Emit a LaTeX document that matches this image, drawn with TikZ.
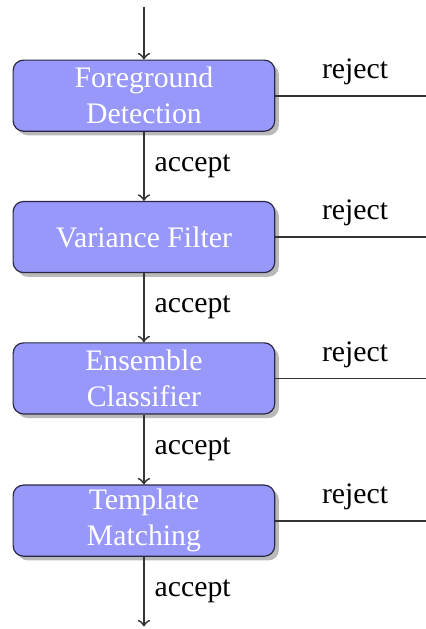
\documentclass[tikz,border=0pt]{standalone}
\usepackage{fontspec}
\newfontfamily\timesfont{Liberation Serif}
\usepackage{tikz}
\usetikzlibrary{arrows}
\usetikzlibrary{shadows}
\definecolor{stageblue}{RGB}{152,152,250}
\definecolor{stageedge}{RGB}{40,40,70}
\tikzstyle{every node}=[font=\timesfont]
\tikzstyle{link}=[semithick,black!80]
\newcommand{\vnode}{\node}
\newcommand{\stagenode}{\node[rectangle,rounded corners=3.5pt,draw=stageedge,fill=stageblue,text=white,
  minimum width=3.09cm,minimum height=0.84cm,inner sep=1pt,align=center,
  drop shadow={shadow xshift=1.4pt,shadow yshift=-1.4pt,opacity=0.55}]}

\begin{document}
\begin{tikzpicture}
      \useasboundingbox (0,0) rectangle (5.03,-7.43);
      \coordinate (in) at (1.70,-0.08); % incoming
      \stagenode (fg) at (1.70,-1.13) {Foreground\\Detection};
      \stagenode (var) at (1.70,-2.80) {Variance Filter};
      \stagenode (ens) at (1.70,-4.47) {Ensemble\\Classifier};
      \stagenode (tmpl) at (1.70,-6.15) {Template\\Matching};
      \coordinate (out) at (1.70,-7.40); % outgoing
      %%%% right hand ends of the reject lines
      \coordinate (r1) at (5.03,-1.13);
      \coordinate (r2) at (5.03,-2.80);
      \coordinate (r3) at (5.03,-4.47);
      \coordinate (r4) at (5.03,-6.15);
      %%%% accept links
      \draw[link,->] (in) -- (fg);
      \draw[link,->] (fg) -- node[right,text=black] {accept} (var);
      \draw[link,->] (var) -- node[right,text=black] {accept} (ens);
      \draw[link,->] (ens) -- node[right,text=black] {accept} (tmpl);
      \draw[link,->] (tmpl) -- node[right,text=black] {accept} (out);
      %%%% reject links
      \draw[link] (fg) -- node[above,pos=0.53,text=black] {reject} (r1);
      \draw[link] (var) -- node[above,pos=0.53,text=black] {reject} (r2);
      \draw[link] (ens) -- node[above,pos=0.53,text=black] {reject} (r3);
      \draw[link] (tmpl) -- node[above,pos=0.53,text=black] {reject} (r4);
\end{tikzpicture}
\end{document}
